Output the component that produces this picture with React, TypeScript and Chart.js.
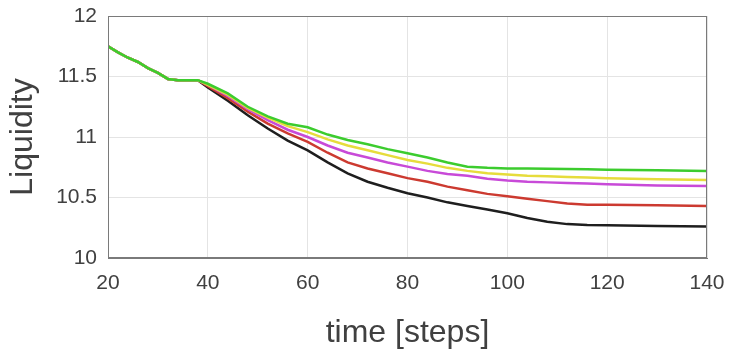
import React, { useEffect, useRef } from "react";
import { Chart, registerables } from "chart.js";

Chart.register(...registerables);

const steps = [20, 22, 24, 26, 28, 30, 32, 34, 36, 38, 40, 44, 48, 52, 56, 60, 64, 68, 72, 76, 80, 84, 88, 92, 96, 100, 104, 108, 112, 116, 120, 130, 140];

const common = [11.75, 11.7, 11.655, 11.62, 11.57, 11.53, 11.48, 11.47, 11.47, 11.47];

const blackVals = [...common, 11.41, 11.3, 11.18, 11.07, 10.97, 10.89, 10.79, 10.7, 10.63, 10.58, 10.535, 10.5, 10.46, 10.43, 10.4, 10.37, 10.33, 10.3, 10.28, 10.272, 10.27, 10.265, 10.26];
const redVals = [...common, 11.42, 11.32, 11.21, 11.11, 11.03, 10.96, 10.87, 10.79, 10.74, 10.7, 10.66, 10.63, 10.59, 10.56, 10.53, 10.51, 10.49, 10.47, 10.45, 10.44, 10.44, 10.435, 10.43];
const magentaVals = [...common, 11.43, 11.34, 11.23, 11.14, 11.06, 11.0, 10.93, 10.87, 10.83, 10.79, 10.755, 10.72, 10.695, 10.68, 10.655, 10.64, 10.63, 10.625, 10.62, 10.615, 10.61, 10.6, 10.595];
const yellowVals = [...common, 11.43, 11.35, 11.24, 11.16, 11.09, 11.04, 10.98, 10.93, 10.89, 10.85, 10.81, 10.78, 10.745, 10.72, 10.7, 10.69, 10.68, 10.675, 10.67, 10.665, 10.66, 10.65, 10.645];
const greenVals = [...common, 11.44, 11.36, 11.25, 11.17, 11.11, 11.08, 11.02, 10.975, 10.94, 10.9, 10.865, 10.83, 10.79, 10.755, 10.745, 10.74, 10.74, 10.738, 10.735, 10.733, 10.73, 10.725, 10.72];

const xTicks = [20, 40, 60, 80, 100, 120, 140];
const yTicks = [10, 10.5, 11, 11.5, 12];

const toPts = (vals: number[]) => steps.map((s, i) => ({ x: s, y: vals[i] }));

const boxPlugin = {
  id: "box",
  afterDraw(chart: any) {
    const { ctx, chartArea } = chart;
    ctx.save();
    ctx.strokeStyle = "#7a7a7a";
    ctx.lineWidth = 1;
    ctx.strokeRect(chartArea.left + 0.5, chartArea.top + 0.5, chartArea.right - chartArea.left - 1, chartArea.bottom - chartArea.top - 1);
    ctx.restore();
  },
};

export default function App() {
  const ref = useRef<HTMLCanvasElement | null>(null);
  useEffect(() => {
    if (!ref.current) return;
    const font = "'Liberation Sans', Arial, sans-serif";
    const mk = (label: string, vals: number[], color: string) => ({
      label,
      data: toPts(vals),
      borderColor: color,
      backgroundColor: color,
      borderWidth: 2.5,
      pointRadius: 0,
      tension: 0,
      fill: false,
    });
    const chart = new Chart(ref.current, {
      type: "line",
      data: {
        datasets: [
          mk("green", greenVals, "#3ccc2e"),
          mk("yellow", yellowVals, "#e6dc3c"),
          mk("magenta", magentaVals, "#c84ad8"),
          mk("red", redVals, "#cc3a30"),
          mk("black", blackVals, "#1e1e1e"),
        ],
      },
      options: {
        responsive: false,
        animation: false,
        layout: { padding: { top: 16, right: 23, left: 0, bottom: 0 } },
        plugins: { legend: { display: false }, tooltip: { enabled: false } },
        scales: {
          x: {
            type: "linear",
            min: 20,
            max: 140,
            afterBuildTicks: (axis: any) => {
              axis.ticks = xTicks.map((v) => ({ value: v }));
            },
            afterFit: (axis: any) => {
              axis.height = 96;
              axis.paddingLeft = 0;
              axis.paddingRight = 0;
            },
            ticks: { color: "#404040", font: { family: font, size: 21 }, padding: 13, maxRotation: 0, callback: (v: any) => String(v) },
            grid: { color: "#e4e4e4", drawTicks: false },
            border: { color: "#7a7a7a" },
            title: { display: true, text: "time [steps]", color: "#404040", font: { family: font, size: 32 }, padding: { top: 0, bottom: 2 } },
          },
          y: {
            type: "linear",
            min: 10,
            max: 12,
            afterBuildTicks: (axis: any) => {
              axis.ticks = yTicks.map((v) => ({ value: v }));
            },
            afterFit: (axis: any) => {
              axis.width = 108;
              axis.paddingTop = 0;
              axis.paddingBottom = 0;
            },
            ticks: { color: "#404040", font: { family: font, size: 21 }, padding: 11, callback: (v: any) => String(v) },
            grid: { color: "#e4e4e4", drawTicks: false },
            border: { color: "#7a7a7a" },
            title: { display: true, text: "Liquidity", color: "#404040", font: { family: font, size: 32 }, padding: { top: 4, bottom: 0 } },
          },
        },
      },
      plugins: [boxPlugin],
    });
    return () => chart.destroy();
  }, []);
  return (
    <div style={{ position: "fixed", left: 0, top: 0, width: 730, height: 354, background: "#fff" }}>
      <canvas ref={ref} width={730} height={354} />
    </div>
  );
}
